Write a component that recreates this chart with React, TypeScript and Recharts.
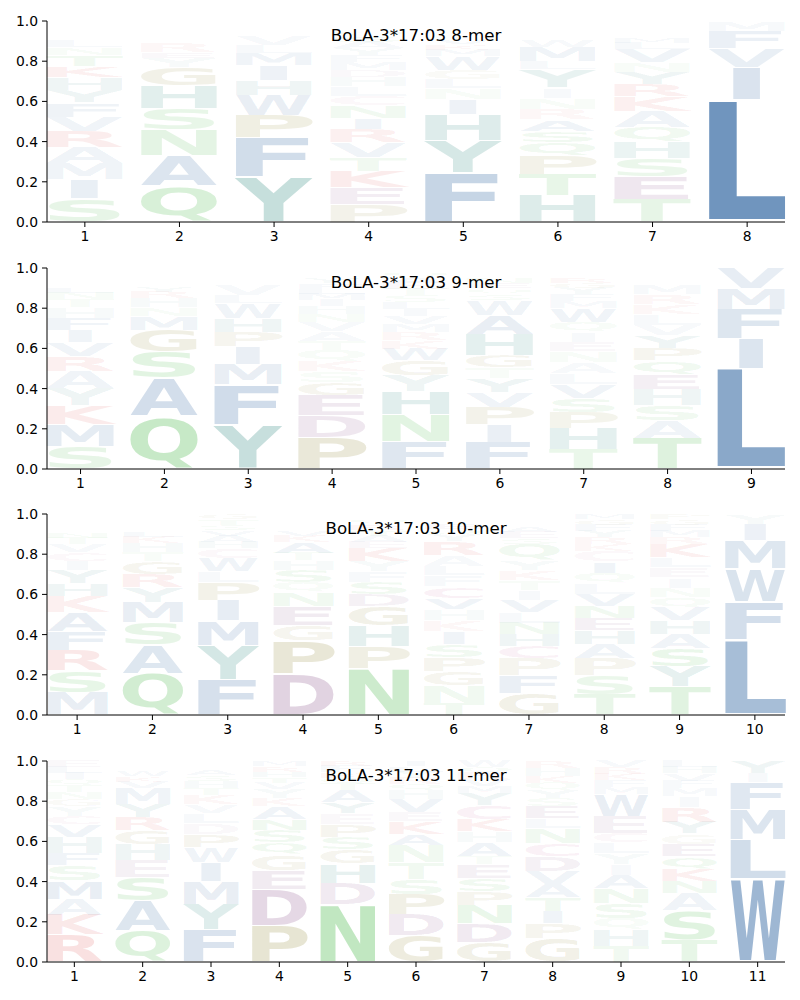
import { BarChart, Bar, XAxis, YAxis } from "recharts";

type Stack = [string, number][];

// letter stacks per position, bottom to top: [amino acid, probability]
const mer8: Stack[] = [
  [["S", .115], ["I", .095], ["M", .082], ["A", .08], ["R", .078], ["V", .073], ["F", .07], ["Y", .062], ["H", .063], ["K", .057], ["T", .057], ["N", .036], ["L", .03], ["G", .025], ["W", .022], ["Q", .02], ["E", .018], ["D", .017]],
  [["Q", .18], ["A", .15], ["N", .127], ["S", .105], ["H", .115], ["G", .093], ["Y", .047], ["E", .028], ["R", .045], ["K", .025], ["T", .022], ["M", .02], ["V", .02], ["D", .023]],
  [["Y", .225], ["F", .195], ["P", .112], ["W", .098], ["H", .076], ["I", .074], ["M", .062], ["L", .038], ["V", .05], ["T", .02], ["S", .018], ["G", .016], ["K", .016]],
  [["P", .087], ["E", .084], ["K", .082], ["T", .07], ["V", .072], ["R", .066], ["I", .057], ["N", .06], ["C", .049], ["L", .049], ["H", .046], ["D", .035], ["M", .04], ["F", .034], ["Y", .032], ["A", .03], ["S", .03], ["Q", .028], ["W", .025], ["G", .024]],
  [["F", .245], ["Y", .16], ["H", .131], ["I", .074], ["N", .055], ["L", .045], ["G", .045], ["W", .07], ["M", .03], ["K", .028], ["V", .027], ["T", .025], ["S", .024], ["E", .021], ["R", .02]],
  [["H", .133], ["T", .105], ["P", .092], ["Q", .066], ["S", .057], ["A", .057], ["R", .053], ["N", .055], ["I", .049], ["Y", .091], ["L", .04], ["M", .072], ["W", .03], ["F", .025], ["V", .022], ["K", .02], ["E", .018], ["G", .015]],
  [["T", .113], ["E", .112], ["S", .093], ["H", .08], ["Q", .072], ["A", .078], ["K", .075], ["R", .062], ["Y", .06], ["N", .05], ["V", .065], ["L", .03], ["M", .028], ["I", .025], ["F", .022], ["G", .02], ["W", .015]],
  [["L", .61], ["I", .16], ["V", .095], ["F", .085], ["M", .05]],
];

const mer9: Stack[] = [
  [["S", .112], ["M", .11], ["K", .092], ["Y", .087], ["A", .085], ["R", .077], ["V", .065], ["I", .062], ["F", .062], ["H", .051], ["T", .042], ["N", .03], ["L", .028], ["W", .025], ["G", .025], ["Q", .024], ["E", .023]],
  [["Q", .262], ["A", .188], ["S", .132], ["G", .11], ["M", .07], ["N", .043], ["H", .045], ["R", .03], ["Y", .028], ["T", .025], ["K", .024], ["E", .022], ["V", .021]],
  [["Y", .22], ["F", .2], ["M", .1], ["I", .089], ["P", .071], ["H", .069], ["W", .074], ["L", .043], ["V", .054], ["T", .022], ["S", .02], ["G", .02], ["A", .018]],
  [["P", .157], ["D", .111], ["E", .1], ["G", .062], ["S", .055], ["K", .053], ["Q", .055], ["T", .044], ["A", .048], ["V", .045], ["N", .04], ["H", .038], ["I", .03], ["M", .03], ["L", .028], ["F", .027], ["Y", .027], ["R", .025], ["W", .025]],
  [["F", .137], ["N", .133], ["H", .117], ["Y", .079], ["G", .074], ["W", .058], ["K", .042], ["R", .04], ["M", .04], ["V", .04], ["I", .035], ["L", .035], ["S", .033], ["T", .032], ["E", .03], ["A", .028], ["Q", .027], ["D", .02]],
  [["F", .133], ["I", .089], ["P", .085], ["V", .075], ["Y", .07], ["T", .053], ["G", .06], ["H", .105], ["A", .095], ["W", .077], ["S", .03], ["Q", .028], ["E", .026], ["N", .026], ["M", .024], ["L", .024]],
  [["T", .098], ["H", .105], ["P", .08], ["S", .069], ["V", .068], ["L", .055], ["A", .055], ["N", .055], ["E", .047], ["I", .05], ["Q", .048], ["W", .07], ["M", .035], ["F", .033], ["Y", .03], ["G", .028], ["R", .026], ["K", .025], ["D", .023]],
  [["T", .153], ["A", .085], ["S", .08], ["H", .079], ["E", .073], ["Q", .07], ["P", .06], ["Y", .063], ["V", .054], ["L", .053], ["K", .05], ["R", .05], ["M", .05], ["F", .025], ["I", .02], ["G", .018], ["N", .017]],
  [["L", .5], ["I", .148], ["F", .147], ["M", .103], ["V", .102]],
];

const mer10: Stack[] = [
  [["M", .112], ["S", .108], ["R", .102], ["F", .096], ["A", .092], ["K", .083], ["H", .06], ["Y", .065], ["I", .047], ["C", .045], ["V", .042], ["T", .03], ["N", .028], ["G", .025], ["L", .023], ["W", .022], ["E", .02]],
  [["Q", .207], ["A", .143], ["S", .112], ["M", .098], ["Y", .073], ["R", .067], ["G", .063], ["T", .047], ["H", .045], ["K", .03], ["L", .028], ["F", .025], ["V", .022], ["N", .02], ["E", .02]],
  [["F", .175], ["Y", .17], ["M", .125], ["I", .1], ["P", .09], ["L", .055], ["W", .065], ["C", .05], ["H", .032], ["A", .03], ["V", .028], ["S", .027], ["T", .027], ["G", .026]],
  [["D", .205], ["P", .163], ["G", .077], ["E", .095], ["N", .07], ["Q", .05], ["S", .06], ["H", .048], ["T", .037], ["A", .057], ["K", .03], ["V", .028], ["I", .025], ["Y", .02], ["R", .02], ["L", .015]],
  [["N", .232], ["P", .108], ["H", .103], ["G", .097], ["D", .06], ["S", .06], ["F", .055], ["Y", .052], ["K", .065], ["E", .03], ["A", .03], ["T", .028], ["R", .028], ["Q", .027], ["M", .025]],
  [["T", .06], ["N", .086], ["G", .072], ["P", .069], ["S", .065], ["I", .063], ["K", .055], ["H", .055], ["V", .057], ["C", .058], ["F", .055], ["L", .045], ["A", .055], ["R", .07], ["Y", .03], ["Q", .028], ["E", .027], ["D", .025], ["M", .025]],
  [["G", .105], ["F", .09], ["P", .085], ["C", .06], ["H", .06], ["N", .058], ["L", .055], ["V", .059], ["I", .05], ["T", .05], ["K", .048], ["Y", .05], ["Q", .08], ["S", .03], ["E", .03], ["A", .028], ["W", .025], ["M", .022], ["R", .015]],
  [["T", .1], ["S", .095], ["P", .085], ["A", .072], ["H", .07], ["E", .06], ["N", .058], ["V", .06], ["L", .055], ["Q", .05], ["I", .057], ["C", .053], ["K", .035], ["R", .033], ["Y", .03], ["F", .03], ["G", .03], ["M", .027]],
  [["T", .14], ["Y", .1], ["S", .09], ["A", .073], ["H", .067], ["V", .065], ["Q", .05], ["N", .048], ["I", .05], ["E", .05], ["L", .05], ["K", .067], ["R", .035], ["M", .03], ["F", .03], ["G", .028], ["P", .027]],
  [["L", .375], ["F", .19], ["W", .165], ["M", .14], ["I", .08], ["Y", .05]],
];

const mer11: Stack[] = [
  [["R", .135], ["K", .098], ["A", .08], ["M", .09], ["S", .078], ["F", .061], ["H", .08], ["V", .061], ["C", .044], ["Y", .048], ["G", .035], ["N", .035], ["T", .033], ["Q", .03], ["I", .03], ["L", .032], ["E", .03]],
  [["Q", .158], ["A", .147], ["S", .117], ["E", .085], ["H", .078], ["G", .07], ["R", .065], ["Y", .065], ["M", .08], ["V", .03], ["K", .028], ["W", .027], ["N", .025], ["T", .025]],
  [["F", .16], ["Y", .127], ["M", .115], ["I", .093], ["W", .077], ["P", .063], ["D", .055], ["L", .05], ["V", .043], ["K", .047], ["T", .035], ["H", .033], ["S", .03], ["A", .028], ["E", .024], ["G", .02]],
  [["P", .18], ["D", .18], ["E", .095], ["G", .08], ["Q", .058], ["S", .062], ["N", .057], ["A", .061], ["K", .042], ["Y", .045], ["V", .03], ["T", .028], ["H", .027], ["R", .028], ["M", .027]],
  [["N", .287], ["D", .106], ["H", .097], ["G", .07], ["S", .062], ["P", .063], ["E", .055], ["Y", .057], ["A", .058], ["T", .03], ["Q", .03], ["K", .028], ["F", .03], ["R", .027]],
  [["G", .13], ["D", .105], ["P", .1], ["S", .077], ["T", .083], ["N", .085], ["A", .057], ["K", .063], ["E", .045], ["V", .065], ["H", .045], ["Q", .03], ["R", .03], ["Y", .03], ["L", .028], ["I", .027]],
  [["G", .095], ["D", .095], ["N", .093], ["P", .067], ["S", .065], ["E", .07], ["T", .043], ["A", .069], ["H", .053], ["K", .06], ["C", .07], ["Y", .06], ["M", .035], ["V", .033], ["R", .032], ["Q", .03], ["W", .03]],
  [["G", .118], ["P", .072], ["I", .063], ["T", .067], ["A", .065], ["V", .065], ["D", .075], ["C", .065], ["N", .075], ["L", .05], ["E", .06], ["S", .04], ["Y", .038], ["Q", .037], ["K", .036], ["H", .038], ["R", .036]],
  [["T", .08], ["H", .083], ["Q", .055], ["S", .075], ["N", .074], ["A", .066], ["I", .054], ["Y", .053], ["L", .053], ["C", .047], ["E", .085], ["W", .11], ["M", .035], ["F", .033], ["K", .033], ["R", .032], ["V", .032]],
  [["T", .11], ["S", .145], ["A", .085], ["N", .06], ["K", .063], ["Q", .062], ["E", .062], ["G", .051], ["Y", .059], ["R", .075], ["I", .053], ["M", .04], ["F", .037], ["V", .035], ["H", .033], ["L", .03]],
  [["W", .415], ["L", .195], ["M", .15], ["F", .135], ["I", .045], ["Y", .06]],
];

const panels = [
  { title: "BoLA-3*17:03 8-mer", stacks: mer8 },
  { title: "BoLA-3*17:03 9-mer", stacks: mer9 },
  { title: "BoLA-3*17:03 10-mer", stacks: mer10 },
  { title: "BoLA-3*17:03 11-mer", stacks: mer11 },
];

const yTicks = [0, 0.2, 0.4, 0.6, 0.8, 1.0];

const blue = "#165294";
const teal = "#006e64";
const green = "#28aa28";
const purple = "#6e286e";
const red = "#d21e1e";
const olive = "#786e0a";
const colors: Record<string, string> = {
  A: blue, I: blue, L: blue, M: blue, F: blue, W: blue, V: blue,
  Y: teal, H: teal,
  N: green, Q: green, S: green, T: green,
  D: purple, E: purple,
  K: red, R: red,
  P: olive, G: olive, C: "#b4287a",
};

// vertical extent of glyphs in em (DejaVu Sans Bold)
const extents: Record<string, [number, number]> = {
  Q: [-0.16, 0.742], C: [-0.014, 0.743], G: [-0.014, 0.743], S: [-0.014, 0.743],
};

// rough advance / left bearing / right bearing in em, so the ink fills the slot
const metrics: Record<string, [number, number, number]> = {
  A: [.774, .003, .003], C: [.734, .05, .05], D: [.83, .09, .05], E: [.683, .09, .06],
  F: [.683, .09, .06], G: [.821, .05, .06], H: [.837, .09, .09], I: [.372, .09, .09],
  K: [.775, .09, .0], L: [.637, .09, .03], M: [.995, .09, .09], N: [.837, .09, .09],
  P: [.733, .09, .05], Q: [.85, .05, .05], R: [.77, .09, .02], S: [.72, .05, .05],
  T: [.682, .01, .01], V: [.774, .003, .003], W: [1.103, .02, .02], Y: [.724, .0, .0],
};

// I stays a narrow block in the logo
const inkWidth: Record<string, number> = { I: 0.36 };

const PLOT_W = 738;
const FONT = "DejaVu Sans";

function Glyph(props: any) {
  const { x, y, width, height, letter, prob } = props;
  if (!letter || !(height > 0.2)) return null;
  const [b, t] = extents[letter] ?? [0, 0.729];
  const pad = height * 0.025;
  const y0 = y + pad;
  const y1 = y + height - pad;
  const sy = (y1 - y0) / (100 * (t - b));
  const ty = y1 + sy * 100 * b;
  const [adv, lsb, rsb] = metrics[letter] ?? [.7, .05, .05];
  const ink = width * (inkWidth[letter] ?? 1);
  const inkX = x + (width - ink) / 2;
  const full = ink * adv / (adv - lsb - rsb);
  const tx = inkX - full * lsb / adv;
  return (
    <g transform={`translate(${tx},${ty}) scale(${full / 100},${sy})`}>
      <text x={0} y={0} fontSize={100} fontFamily={FONT} fontWeight="bold"
        textLength={100} lengthAdjust="spacingAndGlyphs"
        fill={colors[letter]} fillOpacity={prob}>{letter}</text>
    </g>
  );
}

function LogoPanel({ title, stacks, top }: { title: string; stacks: Stack[]; top: number }) {
  const n = stacks.length;
  const slots = Math.max(...stacks.map(s => s.length));
  const data = stacks.map((st, i) => {
    const row: any = { pos: i + 1 };
    for (let k = 0; k < slots; k++) {
      row["s" + k] = st[k] ? st[k][1] : 0;
      row["l" + k] = st[k] ? st[k][0] : "";
    }
    return row;
  });
  const xTicks = stacks.map((_, i) => i + 1);
  const unit = PLOT_W / (n - 0.2);
  const tickStyle = { fontSize: 13.9, fill: "#000", fontFamily: FONT };

  return (
    <div style={{ position: "absolute", left: 0, top }}>
      <BarChart width={800} height={247} data={data}
        margin={{ top: 21, right: 15, bottom: 0, left: 0 }}>
        <XAxis dataKey="pos" type="number" domain={[0.6, n + 0.4]} ticks={xTicks}
          height={25} tickSize={5} tickMargin={4}
          tick={tickStyle} stroke="#000" tickLine={{ stroke: "#000" }} />
        <YAxis type="number" domain={[0, 1]} ticks={yTicks}
          width={47} tickSize={5} tickMargin={4}
          tickFormatter={(v: number) => v.toFixed(1)}
          tick={tickStyle} stroke="#000" tickLine={{ stroke: "#000" }} />
        {Array.from({ length: slots }, (_, k) => (
          <Bar key={k} dataKey={"s" + k} stackId="logo" barSize={unit * 0.8}
            isAnimationActive={false}
            shape={(p: any) => (
              <Glyph {...p} letter={p.payload["l" + k]} prob={p.payload["s" + k]} />
            )} />
        ))}
      </BarChart>
      <div style={{
        position: "absolute", left: 47, top: 26, width: PLOT_W, textAlign: "center",
        fontFamily: FONT, fontSize: 16.67, lineHeight: "20px", color: "#000",
      }}>{title}</div>
    </div>
  );
}

const tops = [0, 247, 493, 740];

export default function App() {
  return (
    <div style={{ position: "absolute", left: 0, top: 0, width: 800, height: 1000, background: "#fff" }}>
      {panels.map((p, i) => (
        <LogoPanel key={p.title} title={p.title} stacks={p.stacks} top={tops[i]} />
      ))}
    </div>
  );
}
